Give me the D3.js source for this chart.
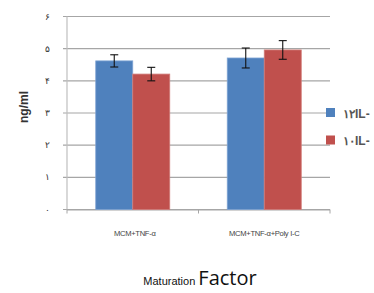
<!DOCTYPE html>
<meta charset='utf-8'>
<style>
  body { margin: 0; background: #fff; }
  text { font-family: 'Liberation Sans', Arial, sans-serif; }
</style>
<svg width='374' height='293'></svg>
<script src='https://cdn.jsdelivr.net/npm/d3@7/dist/d3.min.js'></script>
<script>
  // data
  var categories = ['MCM+TNF-\u03b1', 'MCM+TNF-\u03b1+Poly I-C'];
  var seriesNames = ['\u06f1\u06f2IL-', '\u06f1\u06f0IL-'];
  var il12 = [4.62, 4.71];
  var il12Err = [0.19, 0.31];
  var il10 = [4.21, 4.96];
  var il10Err = [0.21, 0.29];
  var yTicks = [0, 1, 2, 3, 4, 5, 6];
  var yTickLabels = ['\u06f0', '\u06f1', '\u06f2', '\u06f3', '\u06f4', '\u06f5', '\u06f6'];
  var colors = ['#4f81bd', '#c0504d'];

  var svg = d3.select('svg');
  var plotL = 67, plotR = 330, plotT = 16.5, plotB = 209.5;

  var x = d3.scaleBand().domain(categories).range([plotL, plotR]);
  var y = d3.scaleLinear().domain([0, 6]).range([plotB, plotT]);

  // gridlines
  svg.append('g')
    .selectAll('line')
    .data(yTicks)
    .enter().append('line')
      .attr('x1', plotL - 4).attr('x2', plotR)
      .attr('y1', d => y(d)).attr('y2', d => y(d))
      .attr('stroke', '#a6a6a6').attr('stroke-width', 1.2);

  // y axis line
  svg.append('line')
    .attr('x1', plotL).attr('x2', plotL)
    .attr('y1', plotT).attr('y2', plotB)
    .attr('stroke', '#bfbfbf').attr('stroke-width', 1.2);

  svg.append('g')
    .selectAll('text')
    .data(yTicks)
    .enter().append('text')
      .attr('x', 47).attr('y', d => y(d) + 3)
      .attr('text-anchor', 'middle')
      .attr('font-size', 9).attr('fill', '#333')
      .text((d, i) => yTickLabels[i]);

  // x axis
  svg.append('line')
    .attr('x1', plotL).attr('x2', plotR)
    .attr('y1', plotB + 0.5).attr('y2', plotB + 0.5)
    .attr('stroke', '#a6a6a6').attr('stroke-width', 1.2);
  svg.append('g')
    .selectAll('line')
    .data([plotL, plotL + x.bandwidth(), plotR])
    .enter().append('line')
      .attr('x1', d => d).attr('x2', d => d)
      .attr('y1', plotB).attr('y2', plotB + 4)
      .attr('stroke', '#a6a6a6');

  var series = [
    {vals: il12, err: il12Err},
    {vals: il10, err: il10Err}
  ];

  var barW = 37;
  series.forEach(function (s, si) {
    var g = svg.append('g');
    var bx = (c) => x(c) + x.bandwidth() / 2 + (si === 0 ? -barW : 0);
    g.selectAll('rect')
      .data(categories)
      .enter().append('rect')
        .attr('x', c => bx(c))
        .attr('width', barW)
        .attr('y', (c, i) => y(s.vals[i]))
        .attr('height', (c, i) => plotB - y(s.vals[i]))
        .attr('fill', colors[si])
        .attr('stroke', si === 0 ? '#7ea3d3' : '#d27c79')
        .attr('stroke-width', 0.8);

    var eb = g.selectAll('g.err')
      .data(categories)
      .enter().append('g')
        .attr('stroke', '#111').attr('stroke-width', 1.1);
    eb.append('line')
      .attr('x1', c => bx(c) + barW / 2).attr('x2', c => bx(c) + barW / 2)
      .attr('y1', (c, i) => y(s.vals[i] + s.err[i]))
      .attr('y2', (c, i) => y(s.vals[i] - s.err[i]));
    [1, -1].forEach(function (sign) {
      eb.append('line')
        .attr('x1', c => bx(c) + barW / 2 - 4).attr('x2', c => bx(c) + barW / 2 + 4)
        .attr('y1', (c, i) => y(s.vals[i] + sign * s.err[i]))
        .attr('y2', (c, i) => y(s.vals[i] + sign * s.err[i]));
    });
  });

  // category labels
  svg.append('g')
    .selectAll('text')
    .data(categories)
    .enter().append('text')
      .attr('x', (c, i) => x(c) + x.bandwidth() / 2 + (i === 0 ? 2 : 0))
      .attr('y', 236)
      .attr('text-anchor', 'middle')
      .attr('font-size', 7.6)
      .attr('fill', '#444')
      .attr('letter-spacing', -0.3)
      .text(c => c);

  // legend
  var leg = svg.append('g');
  seriesNames.forEach(function (name, i) {
    var ly = 108 + i * 27.5;
    leg.append('rect')
      .attr('x', 326).attr('y', ly)
      .attr('width', 9).attr('height', 9)
      .attr('fill', colors[i]);
    leg.append('text')
      .attr('x', 343).attr('y', ly + 9.5)
      .attr('font-size', 12)
      .attr('font-weight', 'bold')
      .attr('fill', '#555')
      .text(name);
  });

  // axis titles
  svg.append('text')
    .attr('transform', 'translate(28,107) rotate(-90)')
    .attr('text-anchor', 'middle')
    .attr('font-size', 12)
    .attr('font-weight', 'bold')
    .attr('fill', '#333')
    .text('ng/ml');

  var xt = svg.append('text')
    .attr('x', 200).attr('y', 285)
    .attr('text-anchor', 'middle')
    .attr('fill', '#111');
  xt.append('tspan').attr('font-size', 11).text('Maturation ');
  xt.append('tspan').attr('font-size', 20).attr('font-family', 'Open Sans, sans-serif').text('Factor');
</script>
